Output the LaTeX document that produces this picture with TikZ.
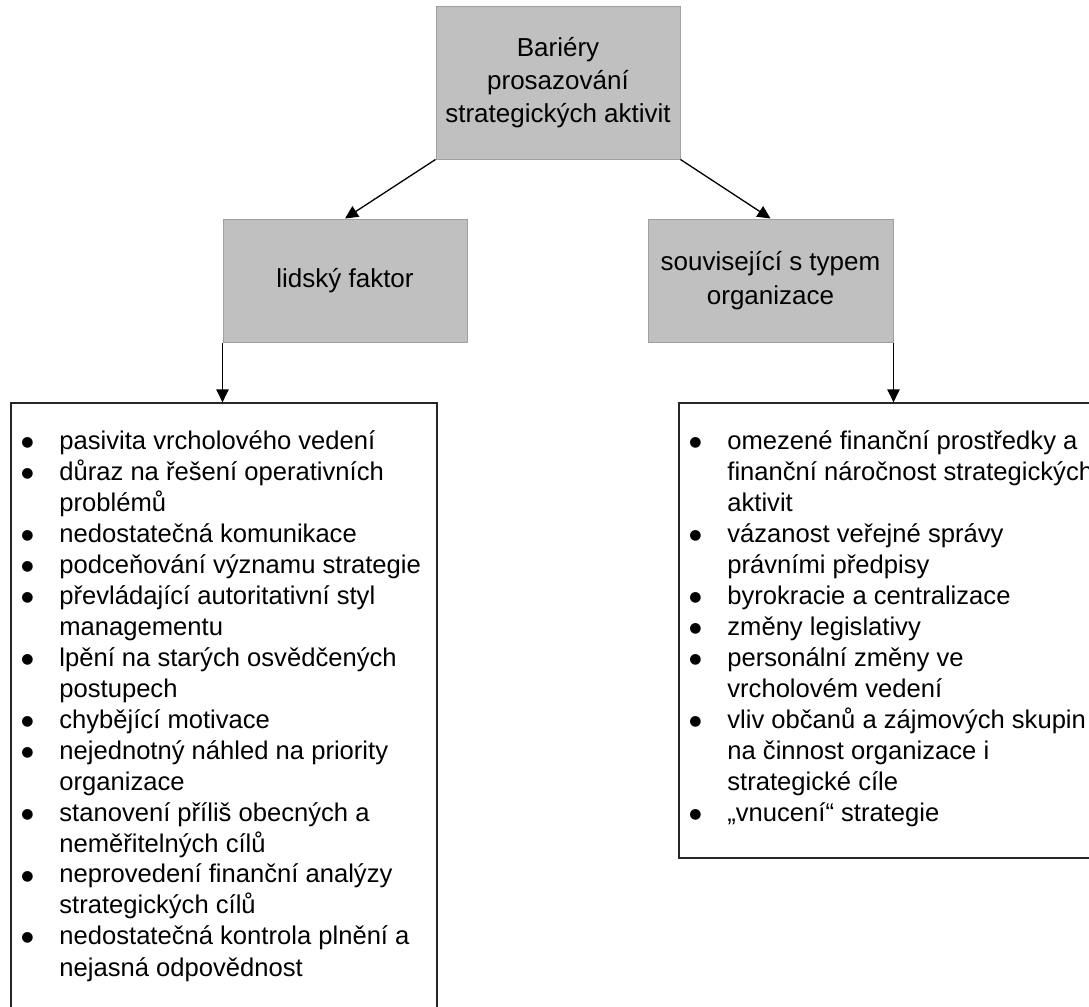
\documentclass[tikz,border=0pt]{standalone}
\usepackage{fontspec}
\setmainfont{Liberation Sans}
\newfontfamily\symfont{DejaVu Sans}
\usetikzlibrary{arrows.meta}
\definecolor{boxgray}{RGB}{192,192,192}
\definecolor{boxedge}{RGB}{160,160,160}
\newcommand{\bitem}{\makebox[19pt][l]{\raisebox{1.5pt}{\fontsize{7}{7}\symfont ●}}}
\newcommand{\bind}{\makebox[19pt][l]{}}
\begin{document}
\begin{tikzpicture}[x=0.5pt,y=-0.5pt,
  graybox/.style={rectangle, fill=boxgray, draw=boxedge, line width=0.5pt,
    align=center, inner sep=0pt, font=\fontsize{13}{16.5}\selectfont},
  listbox/.style={rectangle, draw=black!85, line width=0.65pt, fill=none, inner sep=0pt},
  listtext/.style={inner sep=0pt, anchor=base west, font=\fontsize{12.8}{15.5}\selectfont},
  conn/.style={draw=black, line width=0.65pt, -{Triangle[length=6.5pt,width=6.2pt]}}]
\useasboundingbox (0,0) rectangle (1089,1007);
\clip (0,0) rectangle (1089,1007);
\fill[white] (0,0) rectangle (1089,1007);

\node[graybox, minimum width=122pt, minimum height=76.5pt] (top) at (558,82.5)
  {\raisebox{-2pt}{\parbox{122pt}{\centering Bariéry\\prosazování\\strategických aktivit}}};
\node[graybox, minimum width=122pt, minimum height=61.5pt] (lf) at (345,280.5)
  {\raisebox{-1pt}{lidský faktor}};
\node[graybox, minimum width=122.5pt, minimum height=61.5pt, font=\fontsize{13}{17}\selectfont] (rt) at (770.5,280.5)
  {\raisebox{-1pt}{\parbox{122pt}{\centering související s typem\\organizace}}};

\node[listbox, minimum width=213pt, minimum height=318.5pt] (llist) at (224,721.5) {};
\node[listbox, minimum width=215.5pt, minimum height=227.5pt] (rlist) at (894.5,630.5) {};

\node[listtext] (ltext) at (21,449) {\parbox[t]{250pt}{%
\bitem pasivita vrcholového vedení\\
\bitem důraz na řešení operativních\\
\bind problémů\\
\bitem nedostatečná komunikace\\
\bitem podceňování významu strategie\\
\bitem převládající autoritativní styl\\
\bind managementu\\
\bitem lpění na starých osvědčených\\
\bind postupech\\
\bitem chybějící motivace\\
\bitem nejednotný náhled na priority\\
\bind organizace\\
\bitem stanovení příliš obecných a\\
\bind neměřitelných cílů\\
\bitem neprovedení finanční analýzy\\
\bind strategických cílů\\
\bitem nedostatečná kontrola plnění a\\
\bind nejasná odpovědnost}};

\node[listtext] (rtext) at (689,449) {\parbox[t]{250pt}{%
\bitem omezené finanční prostředky a\\
\bind finanční náročnost strategických\\
\bind aktivit\\
\bitem vázanost veřejné správy\\
\bind právními předpisy\\
\bitem byrokracie a centralizace\\
\bitem změny legislativy\\
\bitem personální změny ve\\
\bind vrcholovém vedení\\
\bitem vliv občanů a zájmových skupin\\
\bind na činnost organizace i\\
\bind strategické cíle\\
\bitem „vnucení“ strategie}};

\draw[conn] (top.south west) -- (lf.north);
\draw[conn] (top.south east) -- (rt.north);
\draw[conn] (lf.south west) -- (lf.south west |- llist.north);
\draw[conn] (rt.south east) -- (rt.south east |- rlist.north);
\end{tikzpicture}
\end{document}
